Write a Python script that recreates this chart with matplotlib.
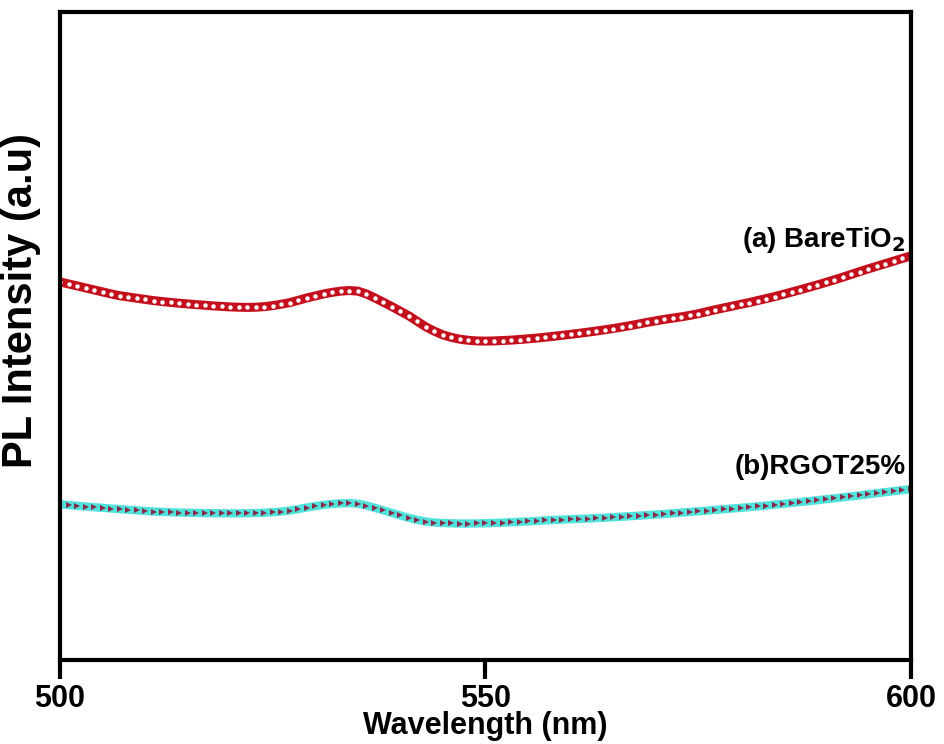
import numpy as np
import matplotlib.pyplot as plt

# ==========================================================
# Data (1 nm steps)
# ==========================================================

wavelength = np.arange(500, 601)

bare_tio2 = [
    378.0, 376.0, 374.0, 372.0, 370.0, 368.0, 366.0, 364.2, 363.0, 361.7,
    360.5, 359.3, 358.4, 357.5, 356.7, 356.0, 355.3, 354.7, 354.0, 353.5,
    353.0, 352.7, 352.5, 352.7, 353.3, 354.3, 355.7, 357.3, 359.6, 362.0,
    364.0, 366.0, 367.6, 368.8, 369.4, 368.8, 366.0, 362.0, 357.7, 353.3,
    348.7, 344.0, 338.5, 333.0, 328.7, 325.0, 322.5, 320.7, 319.6, 319.0,
    318.8, 319.0, 319.4, 319.8, 320.4, 321.1, 321.8, 322.7, 323.6, 324.6,
    325.6, 326.6, 327.7, 328.9, 330.1, 331.4, 332.8, 334.3, 335.9, 337.5,
    339.1, 340.5, 341.8, 343.1, 344.5, 346.2, 348.2, 350.2, 352.0, 353.8,
    355.6, 357.4, 359.4, 361.4, 363.4, 365.6, 367.9, 370.2, 372.6, 375.0,
    377.5, 380.1, 382.8, 385.6, 388.4, 391.1, 393.7, 396.3, 398.9, 401.5,
    404.0,
]

rgot25 = [
    155.7, 154.9, 154.1, 153.4, 152.7, 152.1, 151.4, 150.8, 150.2, 149.6,
    149.0, 148.4, 148.0, 147.7, 147.4, 147.2, 147.0, 146.8, 146.7, 146.6,
    146.6, 146.6, 146.7, 146.9, 147.2, 147.7, 148.4, 149.4, 150.8, 152.4,
    153.8, 155.0, 156.0, 156.6, 156.8, 156.2, 154.4, 152.0, 149.5, 147.0,
    144.5, 142.0, 140.0, 138.4, 137.4, 136.9, 136.6, 136.4, 136.4, 136.5,
    136.7, 137.0, 137.3, 137.7, 138.1, 138.5, 139.0, 139.5, 140.0, 140.3,
    140.7, 141.1, 141.4, 141.8, 142.2, 142.7, 143.2, 143.7, 144.2, 144.8,
    145.4, 146.0, 146.6, 147.3, 148.0, 148.6, 149.3, 150.0, 150.7, 151.4,
    152.1, 152.8, 153.6, 154.4, 155.3, 156.1, 157.0, 157.9, 158.8, 159.7,
    160.7, 161.6, 162.6, 163.6, 164.6, 165.6, 166.7, 167.8, 168.8, 169.8,
    170.8,
]

x_ticks = [500, 550, 600]

# ==========================================================
# Plot
# ==========================================================

plt.rcParams["font.family"] = ["Liberation Sans", "DejaVu Sans"]
plt.rcParams["font.weight"] = "bold"
plt.rcParams["mathtext.default"] = "bf"

fig = plt.figure(figsize=(9.45, 7.44), dpi=100)
ax = fig.add_axes([0.0635, 0.113, 0.9005, 0.871])

ax.plot(
    wavelength, bare_tio2,
    color="#c4101c", lw=6.5,
    marker="o", markersize=3.2,
    markerfacecolor="white", markeredgecolor="white", markeredgewidth=0,
)

ax.plot(
    wavelength, rgot25,
    color="#4fe3dc", lw=6.0,
    marker=">", markersize=4.2,
    markerfacecolor="#8a2a4a", markeredgecolor="#8a2a4a", markeredgewidth=0,
)

ax.text(599.4, 420, "(a) BareTiO$_2$", ha="right", va="center",
        fontsize=20, fontweight="bold")
ax.text(599.4, 193, "(b)RGOT25%", ha="right", va="center",
        fontsize=20, fontweight="bold")

ax.set_xlim(500, 600)
ax.set_ylim(0, 648)

ax.set_xticks(x_ticks)
ax.set_yticks([])

ax.tick_params(axis="x", direction="out", length=14, width=3, labelsize=22, pad=3)
for label in ax.get_xticklabels():
    label.set_fontweight("bold")

for spine in ax.spines.values():
    spine.set_linewidth(3)

ax.set_xlabel("Wavelength (nm)", fontsize=22, fontweight="bold", labelpad=-2)
ax.set_ylabel("PL Intensity (a.u)", fontsize=30, fontweight="bold")
ax.yaxis.set_label_coords(-0.022, 0.555)

fig.savefig("out.png", dpi=100)
